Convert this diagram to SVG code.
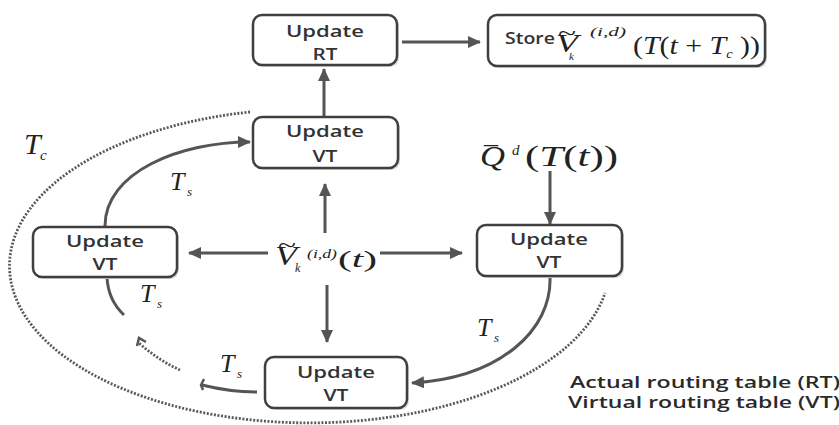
<svg xmlns="http://www.w3.org/2000/svg" width="839" height="425" viewBox="0 0 839 425">
<style>
.box{fill:#fff;stroke:#3f3f3f;stroke-width:2.5}
.shadow{fill:#d8d8d8;stroke:none}
.lbl{font-family:"Open Sans","Liberation Sans",sans-serif;font-size:17px;font-weight:600;fill:#333;text-anchor:middle}
.leg{font-family:"Open Sans","Liberation Sans",sans-serif;font-size:17px;font-weight:600;fill:#2a2a2a}
.m{font-family:"Liberation Serif","DejaVu Serif",serif;fill:#222}
.i{font-style:italic}
.con{fill:none;stroke:#555;stroke-width:3}
.dot{fill:none;stroke:#5a5a5a;stroke-width:2.8;stroke-dasharray:2 1.6}
</style>
<defs>
<marker id="ah" markerUnits="userSpaceOnUse" markerWidth="14" markerHeight="12" refX="12" refY="6" orient="auto">
<path d="M0,0 L13,6 L0,12 z" fill="#555"/>
</marker>
</defs>

<g id="connectors">
<path class="dot" d="M 250 112 A 300 157 0 1 0 605 293"/>
<line class="con" x1="402" y1="42" x2="480" y2="42" marker-end="url(#ah)"/>
<line class="con" x1="324" y1="116" x2="324" y2="69" marker-end="url(#ah)"/>
<line class="con" x1="325" y1="233" x2="325" y2="184" marker-end="url(#ah)"/>
<line class="con" x1="327" y1="285" x2="327" y2="342" marker-end="url(#ah)"/>
<line class="con" x1="268" y1="253" x2="189" y2="253" marker-end="url(#ah)"/>
<line class="con" x1="380" y1="253" x2="462" y2="253" marker-end="url(#ah)"/>
<line class="con" x1="550" y1="171" x2="550" y2="224" marker-end="url(#ah)"/>
<path class="con" d="M 105 226 C 105 172 180 142 250 142" marker-end="url(#ah)"/>
<path class="con" d="M 550 277 C 552 330 500 378 412 383" marker-end="url(#ah)"/>
<path class="con" d="M 107 277 Q 108 300 124 315"/>
<path class="dot" d="M 180 370 Q 158 360 139 343"/>
<path fill="none" stroke="#555" stroke-width="2.5" d="M 137 346 L 139 338 L 146 342"/>
<path class="con" d="M 257 392 Q 230 392 202 385"/>
<path fill="none" stroke="#555" stroke-width="2.5" d="M 203 390 L 201 385 L 204 379"/>
</g>

<g id="node-rt">
<rect class="shadow" x="255" y="17" width="144" height="50" rx="9"/>
<rect class="box" x="253" y="15" width="144" height="50" rx="9"/>
<text class="lbl" x="325" y="37" textLength="78" lengthAdjust="spacingAndGlyphs">Update</text>
<text class="lbl" x="325" y="60" textLength="25" lengthAdjust="spacingAndGlyphs">RT</text>
</g>

<g id="node-store">
<rect class="shadow" x="490" y="17" width="277" height="51" rx="9"/>
<rect class="box" x="488" y="15" width="277" height="51" rx="9"/>
<text class="lbl" x="530" y="44" textLength="50" lengthAdjust="spacingAndGlyphs" font-size="16">Store</text>
<text class="m i" x="556" y="52" font-size="26" textLength="22" lengthAdjust="spacingAndGlyphs">V</text>
<text class="m" x="558" y="40" font-size="20" textLength="18" lengthAdjust="spacingAndGlyphs">~</text>
<text class="m i" x="569" y="60" font-size="11">k</text>
<text class="m i" x="590" y="36" font-size="13" textLength="36" lengthAdjust="spacingAndGlyphs">(i,d)</text>
<text class="m" x="633" y="54" font-size="25" textLength="127" lengthAdjust="spacingAndGlyphs">(<tspan class="i">T</tspan>(<tspan class="i">t</tspan> + <tspan class="i">T</tspan><tspan class="i" font-size="12" dy="4">c</tspan><tspan dy="-4"> ))</tspan></text>
</g>

<g id="node-vt-top">
<rect class="shadow" x="255" y="119" width="145" height="51" rx="9"/>
<rect class="box" x="253" y="117" width="145" height="51" rx="9"/>
<text class="lbl" x="325" y="137" textLength="78" lengthAdjust="spacingAndGlyphs">Update</text>
<text class="lbl" x="325" y="162" textLength="25" lengthAdjust="spacingAndGlyphs">VT</text>
</g>

<g id="node-vt-left">
<rect class="shadow" x="35" y="229" width="144" height="50" rx="9"/>
<rect class="box" x="33" y="227" width="144" height="50" rx="9"/>
<text class="lbl" x="105" y="247" textLength="78" lengthAdjust="spacingAndGlyphs">Update</text>
<text class="lbl" x="105" y="270" textLength="25" lengthAdjust="spacingAndGlyphs">VT</text>
</g>

<g id="node-vt-right">
<rect class="shadow" x="479" y="227" width="145" height="51" rx="9"/>
<rect class="box" x="477" y="225" width="145" height="51" rx="9"/>
<text class="lbl" x="549" y="245" textLength="78" lengthAdjust="spacingAndGlyphs">Update</text>
<text class="lbl" x="549" y="268" textLength="25" lengthAdjust="spacingAndGlyphs">VT</text>
</g>

<g id="node-vt-bottom">
<rect class="shadow" x="267" y="359" width="142" height="51" rx="9"/>
<rect class="box" x="265" y="357" width="142" height="51" rx="9"/>
<text class="lbl" x="336" y="378" textLength="78" lengthAdjust="spacingAndGlyphs">Update</text>
<text class="lbl" x="336" y="401" textLength="25" lengthAdjust="spacingAndGlyphs">VT</text>
</g>

<g id="node-v-center">
<text class="m i" x="275" y="265" font-size="27" textLength="22" lengthAdjust="spacingAndGlyphs">V</text>
<text class="m" x="278" y="252" font-size="21" textLength="18" lengthAdjust="spacingAndGlyphs">~</text>
<text class="m i" x="295" y="272" font-size="12">k</text>
<text class="m i" x="307" y="258" font-size="13" textLength="30" lengthAdjust="spacingAndGlyphs">(i,d)</text>
<text class="m" x="338" y="267" font-size="24" textLength="39" lengthAdjust="spacingAndGlyphs">(<tspan class="i">t</tspan>)</text>
</g>

<g id="node-q">
<text class="m i" x="480" y="166" font-size="30" textLength="25" lengthAdjust="spacingAndGlyphs">Q</text>
<text class="m" x="484" y="163" font-size="24" textLength="14" lengthAdjust="spacingAndGlyphs">¯</text>
<text class="m i" x="512" y="155" font-size="15">d</text>
<text class="m" x="525" y="166" font-size="30" textLength="93" lengthAdjust="spacingAndGlyphs">(<tspan class="i">T</tspan>(<tspan class="i">t</tspan>))</text>
</g>

<g id="labels">
<text class="m i" x="24" y="154" font-size="30">T</text>
<text class="m i" x="40" y="160" font-size="15">c</text>
<text class="m i" x="170" y="190" font-size="26">T</text>
<text class="m i" x="187" y="196" font-size="13">s</text>
<text class="m i" x="140" y="302" font-size="26">T</text>
<text class="m i" x="157" y="308" font-size="13">s</text>
<text class="m i" x="220" y="372" font-size="26">T</text>
<text class="m i" x="237" y="378" font-size="13">s</text>
<text class="m i" x="477" y="336" font-size="26">T</text>
<text class="m i" x="494" y="342" font-size="13">s</text>
<text class="leg" x="570" y="388" textLength="270" lengthAdjust="spacingAndGlyphs">Actual routing table (RT)</text>
<text class="leg" x="568" y="408" textLength="272" lengthAdjust="spacingAndGlyphs">Virtual routing table (VT)</text>
</g>
</svg>
